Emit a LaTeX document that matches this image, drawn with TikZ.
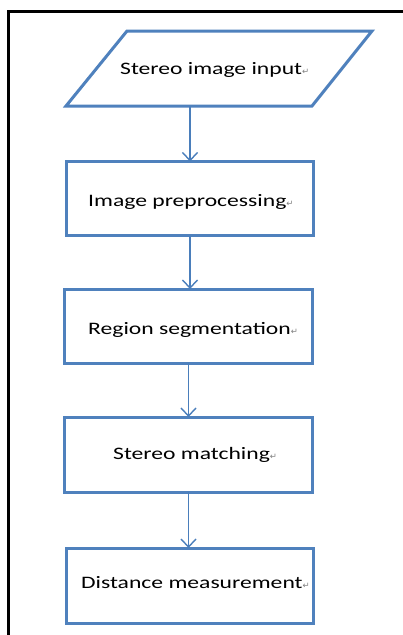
\documentclass[tikz,border=0pt]{standalone}
\usepackage{fontspec}
\setmainfont{Carlito}
\newfontfamily\symfont{DejaVu Sans}
\usetikzlibrary{arrows.meta}
\definecolor{boxblue}{HTML}{4F81BD}
\definecolor{linkblue}{HTML}{4A7EBB}
\newcommand\flowtxt[1]{\scalebox{1.35}[1]{\fontsize{17.5}{20}\selectfont #1}{\symfont\fontsize{8.5}{9}\selectfont\color{gray}↵}}
\begin{document}
\begin{tikzpicture}[x=1pt,y=-1pt,
  stepbox/.style={draw=boxblue, line width=3pt, minimum width=247pt, minimum height=74pt, outer sep=0pt, inner sep=0pt},
  lbl/.style={anchor=base west, inner sep=0pt, text=black},
  link/.style={draw=linkblue, line width=1.4pt, -{Straight Barb[length=8pt,width=15pt,line width=1.4pt]}}]
\clip (0,0) rectangle (403,635);
\useasboundingbox (0,0) rectangle (403,635);
\fill[white] (0,0) rectangle (403,635);
% outer frame (only left and top edges visible)
\draw[black, line width=3pt] (8,660) -- (8,11) -- (430,11);
% input parallelogram
\coordinate (p1) at (127,31);
\coordinate (p2) at (372,31);
\coordinate (p3) at (312,106);
\coordinate (p4) at (66,106);
\coordinate (inb) at (190,106);
\draw[boxblue, line width=3pt, line join=miter] (p1) -- (p2) -- (p3) -- (p4) -- cycle;
\node[lbl] (tin) at (120,74) {\flowtxt{Stereo image input}};
% process boxes
\node[stepbox] (pre) at (190,198.5) {};
\node[stepbox, minimum width=248pt] (reg) at (188.5,326) {};
\node[stepbox, minimum width=248pt, minimum height=75pt] (mat) at (188.5,454.5) {};
\node[stepbox, minimum height=75pt] (dis) at (189.5,585.5) {};
\node[lbl] (tpre) at (88,206) {\flowtxt{Image preprocessing}};
\node[lbl] (treg) at (88,334) {\flowtxt{Region segmentation}};
\node[lbl] (tmat) at (113,459) {\flowtxt{Stereo matching}};
\node[lbl] (tdis) at (81,588) {\flowtxt{Distance measurement}};
% connectors
\draw[link] (inb) -- (inb |- pre.north);
\draw[link] (pre.south) -- (pre.south |- reg.north);
\draw[link] (reg.south) -- (reg.south |- mat.north);
\draw[link] (mat.south) -- (mat.south |- dis.north);
\end{tikzpicture}
\end{document}
